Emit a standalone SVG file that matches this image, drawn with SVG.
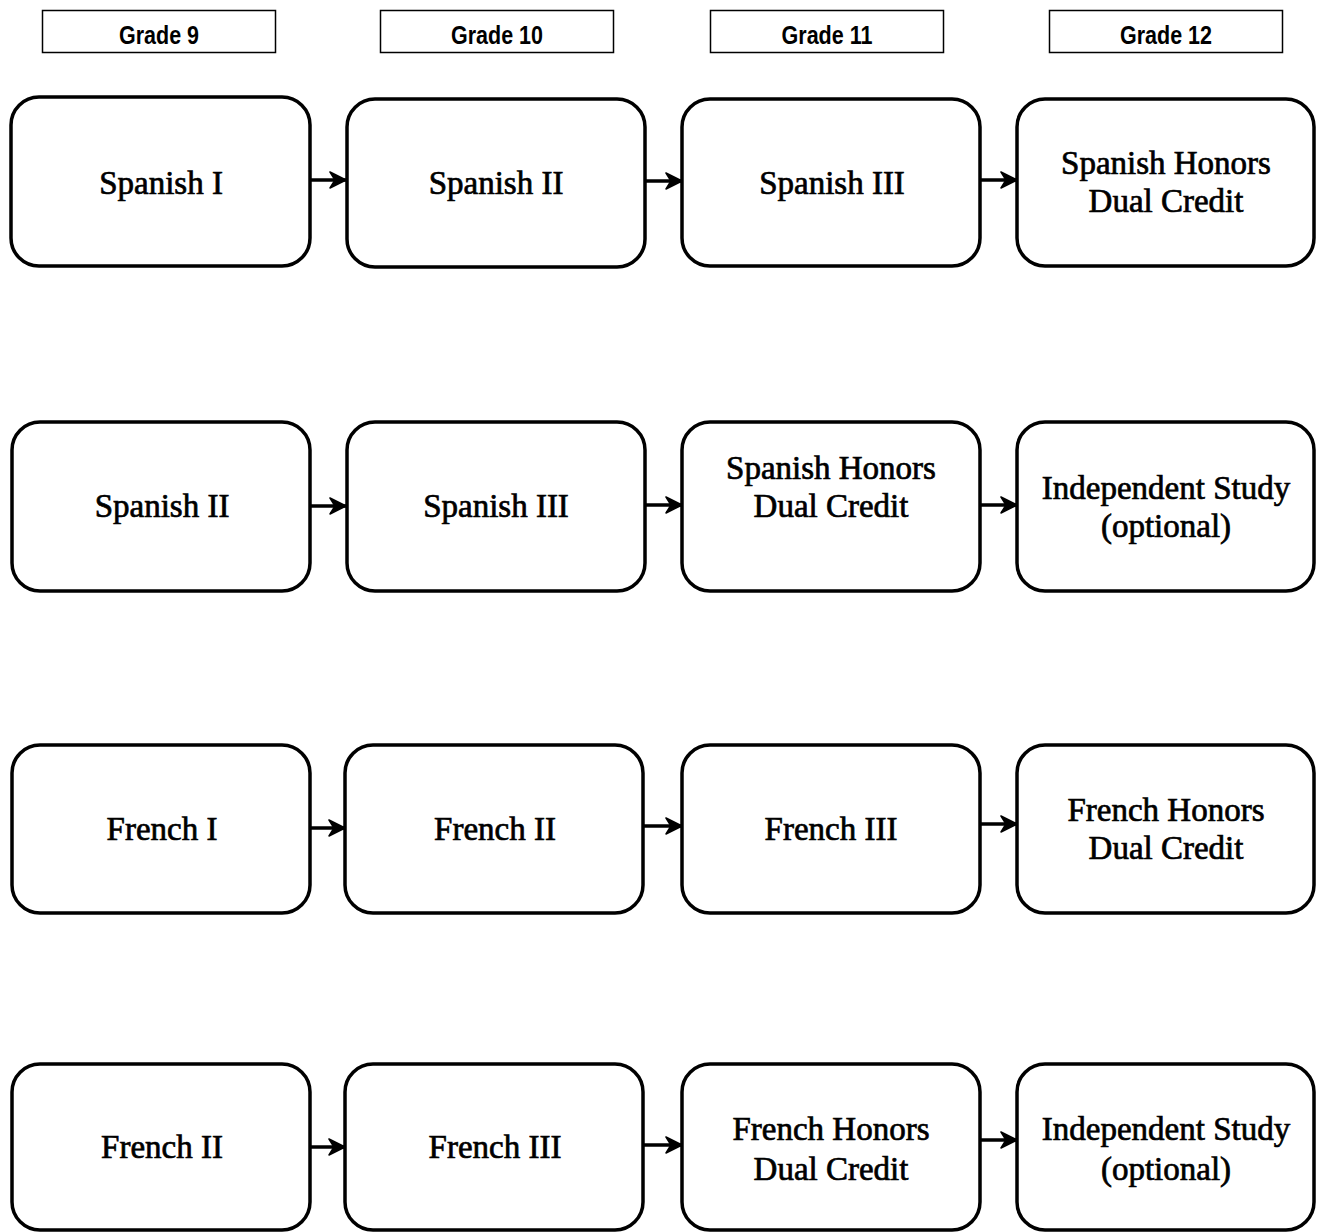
<svg xmlns="http://www.w3.org/2000/svg" width="1317" height="1232" viewBox="0 0 1317 1232">
<defs>
<style>
.hdr rect{fill:#fff;stroke:#000;stroke-width:1.5}
.hdr text{font-family:"Liberation Sans",Arial,sans-serif;font-weight:bold;font-size:25px;text-anchor:middle;fill:#000}
.node rect{fill:#fff;stroke:#000;stroke-width:3.5}
.node text{font-family:"Liberation Serif","Times New Roman",serif;font-size:33px;text-anchor:middle;fill:#000;stroke:#000;stroke-width:0.7}
.conn line{stroke:#000;stroke-width:3.5;fill:none}
</style>
<marker id="ah" markerWidth="18" markerHeight="18" refX="17" refY="9" orient="auto" markerUnits="userSpaceOnUse">
<path d="M1,1 L17,9 L1,17 L6,9 Z" fill="#000" stroke="#000" stroke-width="1.5" stroke-linejoin="round"/>
</marker>
</defs>
<rect width="1317" height="1232" fill="#fff"/>
<g id="headers">
<g id="h9" class="hdr"><rect x="42.5" y="10.5" width="233" height="42"/><text x="159" y="44" textLength="80" lengthAdjust="spacingAndGlyphs">Grade 9</text></g>
<g id="h10" class="hdr"><rect x="380.5" y="10.5" width="233" height="42"/><text x="497" y="44" textLength="92" lengthAdjust="spacingAndGlyphs">Grade 10</text></g>
<g id="h11" class="hdr"><rect x="710.5" y="10.5" width="233" height="42"/><text x="827" y="44" textLength="91" lengthAdjust="spacingAndGlyphs">Grade 11</text></g>
<g id="h12" class="hdr"><rect x="1049.5" y="10.5" width="233" height="42"/><text x="1166" y="44" textLength="92" lengthAdjust="spacingAndGlyphs">Grade 12</text></g>
</g>
<g id="connectors" class="conn">
<line x1="310" y1="180" x2="346" y2="180" marker-end="url(#ah)"/>
<line x1="645" y1="181" x2="682" y2="181" marker-end="url(#ah)"/>
<line x1="980" y1="180" x2="1017" y2="180" marker-end="url(#ah)"/>
<line x1="310" y1="506" x2="346" y2="506" marker-end="url(#ah)"/>
<line x1="645" y1="505" x2="682" y2="505" marker-end="url(#ah)"/>
<line x1="980" y1="505" x2="1017" y2="505" marker-end="url(#ah)"/>
<line x1="310" y1="828" x2="345" y2="828" marker-end="url(#ah)"/>
<line x1="643" y1="826" x2="682" y2="826" marker-end="url(#ah)"/>
<line x1="980" y1="824" x2="1017" y2="824" marker-end="url(#ah)"/>
<line x1="310" y1="1147" x2="345" y2="1147" marker-end="url(#ah)"/>
<line x1="643" y1="1145" x2="682" y2="1145" marker-end="url(#ah)"/>
<line x1="980" y1="1140" x2="1017" y2="1140" marker-end="url(#ah)"/>
</g>
<g id="n_sp1" class="node"><rect x="11" y="97" width="299" height="169" rx="28"/><text x="161" y="194">Spanish I</text></g>
<g id="n_sp2a" class="node"><rect x="347" y="99" width="298" height="168" rx="28"/><text x="496" y="194">Spanish II</text></g>
<g id="n_sp3a" class="node"><rect x="682" y="99" width="298" height="167" rx="28"/><text x="832" y="194">Spanish III</text></g>
<g id="n_sph_a" class="node"><rect x="1017" y="99" width="297" height="167" rx="28"/><text x="1166" y="174">Spanish Honors</text><text x="1166" y="212">Dual Credit</text></g>

<g id="n_sp2b" class="node"><rect x="12" y="422" width="298" height="169" rx="28"/><text x="162" y="517">Spanish II</text></g>
<g id="n_sp3b" class="node"><rect x="347" y="422" width="298" height="169" rx="28"/><text x="496" y="517">Spanish III</text></g>
<g id="n_sph_b" class="node"><rect x="682" y="422" width="298" height="169" rx="28"/><text x="831" y="479">Spanish Honors</text><text x="831" y="517">Dual Credit</text></g>
<g id="n_is_a" class="node"><rect x="1017" y="422" width="297" height="169" rx="28"/><text x="1166" y="499">Independent Study</text><text x="1166" y="537">(optional)</text></g>

<g id="n_fr1" class="node"><rect x="12" y="745" width="298" height="168" rx="28"/><text x="162" y="840">French I</text></g>
<g id="n_fr2a" class="node"><rect x="345" y="745" width="298" height="168" rx="28"/><text x="495" y="840">French II</text></g>
<g id="n_fr3a" class="node"><rect x="682" y="745" width="298" height="168" rx="28"/><text x="831" y="840">French III</text></g>
<g id="n_frh_a" class="node"><rect x="1017" y="745" width="297" height="168" rx="28"/><text x="1166" y="821">French Honors</text><text x="1166" y="859">Dual Credit</text></g>

<g id="n_fr2b" class="node"><rect x="12" y="1064" width="298" height="166" rx="28"/><text x="162" y="1158">French II</text></g>
<g id="n_fr3b" class="node"><rect x="345" y="1064" width="298" height="166" rx="28"/><text x="495" y="1158">French III</text></g>
<g id="n_frh_b" class="node"><rect x="682" y="1064" width="298" height="166" rx="28"/><text x="831" y="1140">French Honors</text><text x="831" y="1180">Dual Credit</text></g>
<g id="n_is_b" class="node"><rect x="1017" y="1064" width="297" height="166" rx="28"/><text x="1166" y="1140">Independent Study</text><text x="1166" y="1180">(optional)</text></g>
</svg>
